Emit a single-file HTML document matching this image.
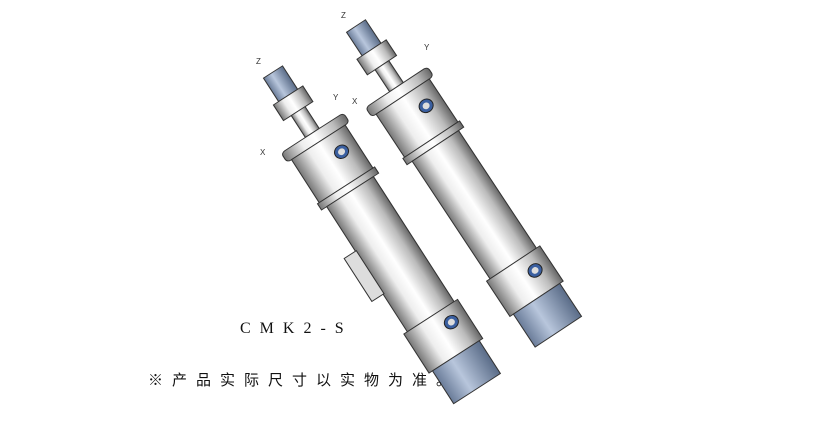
<!DOCTYPE html>
<html><head><meta charset="utf-8"><style>
body{margin:0;background:#fff;width:840px;height:436px;overflow:hidden;position:relative;font-family:"Liberation Serif","Noto Serif CJK SC",serif}
.t1{position:absolute;left:240px;top:320px;font-size:16px;letter-spacing:9px;color:#111}
.t2{position:absolute;left:148px;top:369px;font-size:15px;letter-spacing:9px;color:#111;font-family:"Liberation Serif","Noto Sans CJK SC",sans-serif}
</style></head><body>
<svg width="840" height="436" style="position:absolute;left:0;top:0">
<defs>
<linearGradient id="m" x1="0" x2="1"><stop offset="0" stop-color="#777"/><stop offset=".3" stop-color="#eee"/><stop offset=".5" stop-color="#fff"/><stop offset=".8" stop-color="#bbb"/><stop offset="1" stop-color="#666"/></linearGradient>
<linearGradient id="b" x1="0" x2="1"><stop offset="0" stop-color="#6a7c99"/><stop offset=".4" stop-color="#b8c6dc"/><stop offset="1" stop-color="#5a6c88"/></linearGradient>
<g id="cyl">
 <rect x="-11" y="0" width="22" height="30" fill="url(#b)" stroke="#333"/>
 <rect x="-17" y="30" width="34" height="20" fill="url(#m)" stroke="#333"/>
 <rect x="-8" y="50" width="16" height="28" fill="url(#m)" stroke="#333"/>
 <rect x="-36" y="78" width="72" height="12" rx="4" fill="url(#m)" stroke="#333"/>
 <rect x="-31" y="90" width="62" height="55" fill="url(#m)" stroke="#333"/>
 <circle cx="14" cy="112" r="7" fill="#3a5fa0" stroke="#222"/><circle cx="14" cy="112" r="3.5" fill="#ddd"/>
 <rect x="-33" y="145" width="66" height="8" fill="url(#m)" stroke="#333"/>
</g>
</defs>
<g transform="translate(273,72) rotate(-32.8) scale(1.03,0.93)">
 <use href="#cyl"/>
 <rect x="-27" y="153" width="54" height="160" fill="url(#m)" stroke="#333"/>
 <rect x="-40" y="210" width="14" height="55" fill="#ddd" stroke="#333"/>
 <rect x="-31" y="313" width="62" height="50" fill="url(#m)" stroke="#333"/>
 <circle cx="14" cy="330" r="7" fill="#3a5fa0" stroke="#222"/><circle cx="14" cy="330" r="3.5" fill="#ddd"/>
 <rect x="-27" y="363" width="54" height="42" fill="url(#b)" stroke="#333"/>
</g>
<g transform="translate(356,26) rotate(-33.5) scale(1.03,0.94)">
 <use href="#cyl"/>
 <rect x="-27" y="153" width="54" height="150" fill="url(#m)" stroke="#333"/>
 <rect x="-31" y="303" width="62" height="45" fill="url(#m)" stroke="#333"/>
 <circle cx="14" cy="322" r="7" fill="#3a5fa0" stroke="#222"/><circle cx="14" cy="322" r="3.5" fill="#ddd"/>
 <rect x="-27" y="348" width="54" height="42" fill="url(#b)" stroke="#333"/>
</g>
<g font-family="Liberation Sans" font-size="8" fill="#333">
<text x="256" y="64">Z</text><text x="333" y="100">Y</text><text x="260" y="155">X</text>
<text x="341" y="18">Z</text><text x="424" y="50">Y</text><text x="352" y="104">X</text>
</g>
</svg>
<div class="t1">CMK2-S</div>
<div class="t2">※产品实际尺寸以实物为准。</div>
</body></html>
